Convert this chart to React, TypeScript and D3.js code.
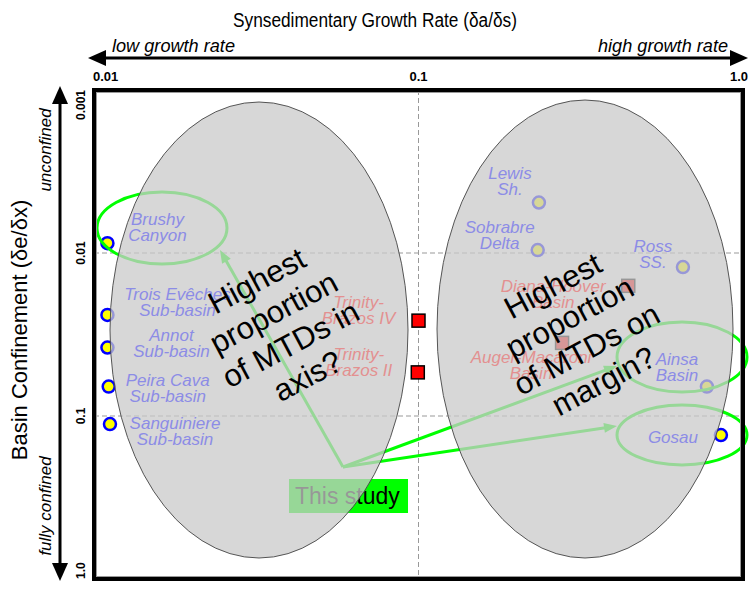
import React from "react";
import * as d3 from "d3";

// ---- data ----
const circleNames = ["Brushy Canyon", "Trois Evêches Sub-basin", "Annot Sub-basin", "Peira Cava Sub-basin", "Sanguiniere Sub-basin", "Lewis Sh.", "Sobrabre Delta", "Ross SS.", "Ainsa Basin", "Gosau"];
const circleGrowth = [0.011, 0.011, 0.011, 0.0111, 0.0112, 0.235, 0.233, 0.653, 0.774, 0.855];
const circleConfinement = [0.0087, 0.024, 0.038, 0.066, 0.112, 0.0049, 0.0096, 0.0122, 0.066, 0.131];
const circleLabels = [["Brushy", "Canyon"], ["Trois Evêches", "Sub-basin"], ["Annot", "Sub-basin"], ["Peira Cava", "Sub-basin"], ["Sanguiniere", "Sub-basin"], ["Lewis", "Sh."], ["Sobrabre", "Delta"], ["Ross", "SS."], ["Ainsa", "Basin"], ["Gosau"]];

const squareNames = ["Trinity-Brazos IV", "Trinity-Brazos II", "Diana-Hoover Basin", "Auger-Macaroni Basin"];
const squareGrowth = [0.1, 0.0995, 0.443, 0.277];
const squareConfinement = [0.026, 0.054, 0.0159, 0.0356];
const squareLabels = [["Trinity-", "Brazos IV"], ["Trinity-", "Brazos II"], ["Diana-Hoover", "Basin"], ["Auger-Macaroni", "Basin"]];

const xTicks = [0.01, 0.1, 1];
const xTickLabels = ["0.01", "0.1", "1.0"];
const yTicks = [0.001, 0.01, 0.1, 1];
const yTickLabels = ["0.001", "0.01", "0.1", "1.0"];
const xGrid = [0.1];
const yGrid = [0.01, 0.1];

// ---- layout (pixel offsets for labels) ----
const circleLabelOffsets = [[50, -18], [70, -15], [64, -7], [59, -1], [65, 5], [-29, -24], [-38, -17], [-30, -15], [-30, -22], [-48, 8]];
const squareLabelOffsets = [[-60, -13], [-59, -12], [-75, 6], [-31, 20]];

const FONT = "'Liberation Sans', Arial, Helvetica, sans-serif";

export default function App() {
  const W = 749, H = 592;
  const L = 94, R = 743, T = 90, B = 579;
  const x = d3.scaleLog().domain([0.01, 1]).range([L, R]);
  const y = d3.scaleLog().domain([0.001, 1]).range([T, B]);

  const src: [number, number] = [343, 467];
  const arrowEnds: [number, number][] = [[220, 250], [617, 366], [617, 426]];
  const greenEllipses = [
    { cx: 162, cy: 228, rx: 65, ry: 36 },
    { cx: 682, cy: 357, rx: 65, ry: 35 },
    { cx: 682, cy: 435, rx: 65, ry: 30 },
  ];
  const grayEllipses = [
    { cx: 259, cy: 330, rx: 149, ry: 228 },
    { cx: 585, cy: 329, rx: 148, ry: 229 },
  ];

  const head = (from: [number, number], to: [number, number], len = 13, half = 5) => {
    const ang = Math.atan2(to[1] - from[1], to[0] - from[0]);
    const bx = to[0] - len * Math.cos(ang), by = to[1] - len * Math.sin(ang);
    const px = -Math.sin(ang) * half, py = Math.cos(ang) * half;
    return `M${to[0]},${to[1]}L${bx + px},${by + py}L${bx - px},${by - py}Z`;
  };

  return (
    <svg width={W} height={H} style={{ display: "block", position: "absolute", left: 0, top: 0, background: "#fff" }} fontFamily={FONT}>
      <rect x={0} y={0} width={W} height={H} fill="#fff" />
      {/* title */}
      <text x={233} y={27} fontSize={20} textLength={284} lengthAdjust="spacingAndGlyphs">Synsedimentary Growth Rate (δa/δs)</text>
      {/* top arrow */}
      <line x1={100} x2={736} y1={58} y2={58} stroke="#000" strokeWidth={3} />
      <path d="M88,58L106,50L106,66Z" fill="#000" />
      <path d="M748,58L730,50L730,66Z" fill="#000" />
      <text x={112} y={52} fontSize={18} fontStyle="italic" textLength={123} lengthAdjust="spacingAndGlyphs">low growth rate</text>
      <text x={598} y={52} fontSize={18} fontStyle="italic" textLength={130} lengthAdjust="spacingAndGlyphs">high growth rate</text>
      {/* x tick labels */}
      {xTicks.map((t, i) => (
        <text key={i} x={x(t)} y={81} fontSize={13} fontWeight="bold" textAnchor={i === 0 ? "start" : i === xTicks.length - 1 ? "end" : "middle"} dx={i === 0 ? -1 : i === xTicks.length - 1 ? 5 : 0}>{xTickLabels[i]}</text>
      ))}
      {/* left arrow */}
      <line x1={60} x2={60} y1={98} y2={570} stroke="#000" strokeWidth={3} />
      <path d="M60,86L52,104L68,104Z" fill="#000" />
      <path d="M60,581L52,563L68,563Z" fill="#000" />
      <text transform="translate(27,330) rotate(-90)" textAnchor="middle" fontSize={22}>Basin Confinement (δe/δx)</text>
      <text transform="translate(51,150) rotate(-90)" textAnchor="middle" fontSize={17} fontStyle="italic">unconfined</text>
      <text transform="translate(51,506) rotate(-90)" textAnchor="middle" fontSize={17} fontStyle="italic">fully confined</text>
      {yTicks.map((t, i) => (
        <text key={i} transform={`translate(85,${y(t)}) rotate(-90)`} fontSize={12} fontWeight="bold" textAnchor={i === 0 ? "end" : i === yTicks.length - 1 ? "start" : "middle"}>{yTickLabels[i]}</text>
      ))}

      {/* grid */}
      {xGrid.map((g, i) => (
        <line key={"xg" + i} x1={x(g)} x2={x(g)} y1={T} y2={B} stroke="#999" strokeDasharray="5,3" strokeWidth={1} />
      ))}
      {yGrid.map((g, i) => (
        <line key={"yg" + i} x1={L} x2={R} y1={y(g)} y2={y(g)} stroke="#999" strokeDasharray="5,3" strokeWidth={1} />
      ))}

      {/* points */}
      {circleNames.map((n, i) => (
        <circle key={n} cx={x(circleGrowth[i])} cy={y(circleConfinement[i])} r={6} fill="#ffff00" stroke="#0000ff" strokeWidth={2.5} />
      ))}
      {squareNames.map((n, i) => (
        <rect key={n} x={x(squareGrowth[i]) - 6.5} y={y(squareConfinement[i]) - 6.5} width={13} height={13} fill="#ff0000" stroke="#000" strokeWidth={1.5} />
      ))}

      {/* green annotations */}
      {greenEllipses.map((e, i) => (
        <ellipse key={"ge" + i} cx={e.cx} cy={e.cy} rx={e.rx} ry={e.ry} fill="none" stroke="#00ff00" strokeWidth={3} />
      ))}
      {arrowEnds.map((e, i) => {
        const ang = Math.atan2(e[1] - src[1], e[0] - src[0]);
        const ex = e[0] - 10 * Math.cos(ang), ey = e[1] - 10 * Math.sin(ang);
        return (
          <g key={"ar" + i}>
            <line x1={src[0]} y1={src[1]} x2={ex} y2={ey} stroke="#00ff00" strokeWidth={3} />
            <path d={head(src, e)} fill="#00ff00" />
          </g>
        );
      })}
      <rect x={289} y={479} width={119} height={34} fill="#00ff00" />
      <text x={295} y={504} fontSize={23}>This study</text>

      {/* gray ellipses (semi-transparent) */}
      {grayEllipses.map((e, i) => (
        <ellipse key={"gr" + i} cx={e.cx} cy={e.cy} rx={e.rx} ry={e.ry} fill="#c9c9c9" fillOpacity={0.75} stroke="#444" strokeWidth={0.9} />
      ))}

      {/* labels */}
      {circleLabels.map((lines, i) => {
        const px = x(circleGrowth[i]) + circleLabelOffsets[i][0];
        const py = y(circleConfinement[i]) + circleLabelOffsets[i][1];
        return (
          <text key={"cl" + i} x={px} y={py} textAnchor="middle" fontSize={17} fontStyle="italic" fill="#8c8ce6">
            {lines.map((l, j) => <tspan key={j} x={px} dy={j === 0 ? 0 : 16}>{l}</tspan>)}
          </text>
        );
      })}
      {squareLabels.map((lines, i) => {
        const px = x(squareGrowth[i]) + squareLabelOffsets[i][0];
        const py = y(squareConfinement[i]) + squareLabelOffsets[i][1];
        return (
          <text key={"sl" + i} x={px} y={py} textAnchor="middle" fontSize={17} fontStyle="italic" fill="#e39090">
            {lines.map((l, j) => <tspan key={j} x={px} dy={j === 0 ? 0 : 16}>{l}</tspan>)}
          </text>
        );
      })}

      {/* big annotation text */}
      {[{ cx: 282, cy: 328, lines: ["Highest", "proportion", "of MTDs in", "axis?"] },
        { cx: 578, cy: 333, lines: ["Highest", "proportion", "of MTDs on", "margin?"] }].map((b, i) => (
        <g key={"bt" + i} transform={`translate(${b.cx},${b.cy}) rotate(-28)`}>
          {b.lines.map((l, j) => (
            <text key={j} x={0} y={(j - 1.5) * 36 + 11} textAnchor="middle" fontSize={31} fill="#000">{l}</text>
          ))}
        </g>
      ))}

      {/* frame */}
      <rect x={L} y={T} width={R - L} height={B - T} fill="none" stroke="#000" strokeWidth={4} />
      <rect x={L + 2.5} y={T + 2.5} width={R - L - 5} height={B - T - 5} fill="none" stroke="#999" strokeWidth={1} />
    </svg>
  );
}
